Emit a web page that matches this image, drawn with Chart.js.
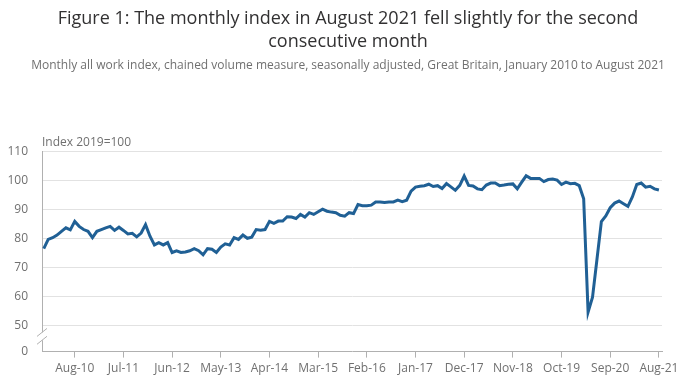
<!DOCTYPE html>
<html>
<head>
<meta charset="utf-8">
<script src="https://cdn.jsdelivr.net/npm/chart.js@4"></script>
<style>
  html, body { margin: 0; padding: 0; background: #fff; }
  #wrap { width: 696px; height: 385px; }
</style>
</head>
<body>
<div id="wrap"><canvas id="chart" width="696" height="385"></canvas></div>
<script>
// Monthly all work index, Jan 2010 - Aug 2021
const values2010 = [76.4, 79.6, 80.2, 81.1, 82.4, 83.6, 82.9, 85.8, 84.1, 83.0, 82.4, 80.2];
const values2011 = [82.4, 83.0, 83.6, 84.1, 82.7, 83.8, 82.7, 81.5, 81.7, 80.5, 81.8, 84.7];
const values2012 = [80.7, 77.7, 78.5, 77.7, 78.5, 75.1, 75.7, 75.1, 75.3, 75.7, 76.4, 75.7];
const values2013 = [74.3, 76.4, 76.2, 75.1, 77.0, 78.1, 77.7, 80.2, 79.6, 81.1, 80.0, 80.4];
const values2014 = [83.0, 82.8, 83.0, 85.8, 85.1, 85.9, 85.9, 87.4, 87.3, 86.8, 88.2, 87.3];
const values2015 = [88.8, 88.2, 89.1, 90.0, 89.3, 89.0, 88.8, 87.9, 87.6, 88.8, 88.5, 91.6];
const values2016 = [91.2, 91.2, 91.4, 92.5, 92.5, 92.3, 92.5, 92.5, 93.1, 92.6, 93.1, 96.2];
const values2017 = [97.6, 97.9, 98.1, 98.6, 97.8, 98.1, 97.1, 98.8, 97.7, 96.5, 98.2, 101.4];
const values2018 = [98.2, 98.0, 97.0, 96.7, 98.3, 99.0, 99.0, 98.1, 98.3, 98.6, 98.7, 97.0];
const values2019 = [99.3, 101.5, 100.6, 100.6, 100.6, 99.5, 100.2, 100.4, 100.0, 98.5, 99.3, 98.8];
const values2020 = [98.9, 98.1, 93.6, 54.6, 59.7, 72.7, 85.7, 87.7, 90.5, 92.1, 92.8, 91.9];
const values2021 = [91.0, 94.2, 98.5, 99.0, 97.6, 97.9, 97.0, 96.6];

const monthNames = ['Jan','Feb','Mar','Apr','May','Jun','Jul','Aug','Sep','Oct','Nov','Dec'];
const years = [2010, 2011, 2012, 2013, 2014, 2015, 2016, 2017, 2018, 2019, 2020, 2021];
const xTickLabels = ['Aug-10','Jul-11','Jun-12','May-13','Apr-14','Mar-15','Feb-16',
                     'Jan-17','Dec-17','Nov-18','Oct-19','Sep-20','Aug-21'];
const yTickValues = [50, 60, 70, 80, 90, 100, 110];

const values = [].concat(values2010, values2011, values2012, values2013, values2014, values2015,
  values2016, values2017, values2018, values2019, values2020, values2021);

const months = [];
years.forEach(y => monthNames.forEach(m => months.push(m + '-' + String(y).slice(2))));
months.length = values.length;

// axis is broken below 50; the "0" tick sits a little under it
const yFloor = 41;

const axisGrey = '#b0b0b0';
const textGrey = '#707070';
const fontFamily = '"Open Sans", "Noto Sans", sans-serif';

const extras = {
  id: 'extras',
  afterDraw(chart) {
    const { ctx, chartArea, scales } = chart;
    const left = chartArea.left;
    ctx.save();
    // unit label above the y axis
    ctx.fillStyle = textGrey;
    ctx.font = '12px ' + fontFamily;
    ctx.textAlign = 'left';
    ctx.textBaseline = 'middle';
    ctx.fillText('Index 2019=100', left, chartArea.top - 9);

    // axis break marks
    const y1 = scales.y.getPixelForValue(47.6);
    const y2 = scales.y.getPixelForValue(44.9);
    ctx.fillStyle = '#fff';
    ctx.fillRect(left - 2, y1, 4, y2 - y1);
    ctx.strokeStyle = axisGrey;
    ctx.lineWidth = 1;
    [y1, y2].forEach(y => {
      ctx.beginPath();
      ctx.moveTo(left - 5, y + 4);
      ctx.lineTo(left + 5, y - 4);
      ctx.stroke();
    });
    ctx.restore();
  }
};

new Chart(document.getElementById('chart'), {
  type: 'line',
  data: {
    datasets: [{
      data: values.map((v, i) => ({ x: i, y: v })),
      borderColor: '#206095',
      borderWidth: 3,
      pointRadius: 0,
      tension: 0,
      fill: false
    }]
  },
  options: {
    responsive: false,
    animation: false,
    layout: { padding: { left: 8, right: 8, bottom: 5 } },
    plugins: {
      legend: { display: false },
      tooltip: { enabled: false },
      title: {
        display: true,
        text: ['Figure 1: The monthly index in August 2021 fell slightly for the second',
               'consecutive month'],
        color: '#323132',
        font: { family: fontFamily, size: 18, weight: 'normal', lineHeight: 1.28 },
        padding: { top: 7, bottom: 5 }
      },
      subtitle: {
        display: true,
        text: 'Monthly all work index, chained volume measure, seasonally adjusted, Great Britain, January 2010 to August 2021',
        color: textGrey,
        font: { family: fontFamily, size: 12, weight: 'normal', lineHeight: 1.25 },
        padding: { top: 0, bottom: 78 }
      }
    },
    scales: {
      x: {
        type: 'linear',
        min: -0.4,
        max: values.length - 1 + 0.7,
        afterBuildTicks(scale) {
          scale.ticks = xTickLabels.map(l => ({ value: months.indexOf(l) }));
        },
        ticks: {
          autoSkip: false,
          maxRotation: 0,
          padding: 4,
          color: textGrey,
          font: { family: fontFamily, size: 12 },
          callback: v => months[v]
        },
        grid: { drawOnChartArea: false, drawTicks: true, tickLength: 6, color: axisGrey },
        border: { color: axisGrey }
      },
      y: {
        min: yFloor,
        max: 110,
        afterBuildTicks(scale) {
          scale.ticks = [yFloor].concat(yTickValues).map(v => ({ value: v }));
        },
        afterFit(scale) { scale.width = 34; },
        ticks: {
          padding: 14,
          color: textGrey,
          font: { family: fontFamily, size: 12 },
          callback: v => (v === yFloor ? '0' : v)
        },
        grid: {
          drawTicks: false,
          color: c => (c.tick && c.tick.value === yFloor ? 'rgba(0,0,0,0)' : '#e2e2e2')
        },
        border: { color: axisGrey }
      },
      // empty right-hand axis that only keeps a margin, so titles stay centred on the canvas
      yRight: {
        position: 'right',
        min: yFloor,
        max: 110,
        afterFit(scale) { scale.width = 26; },
        ticks: { display: false },
        grid: { display: false },
        border: { display: false }
      }
    }
  },
  plugins: [extras]
});
</script>
</body>
</html>
